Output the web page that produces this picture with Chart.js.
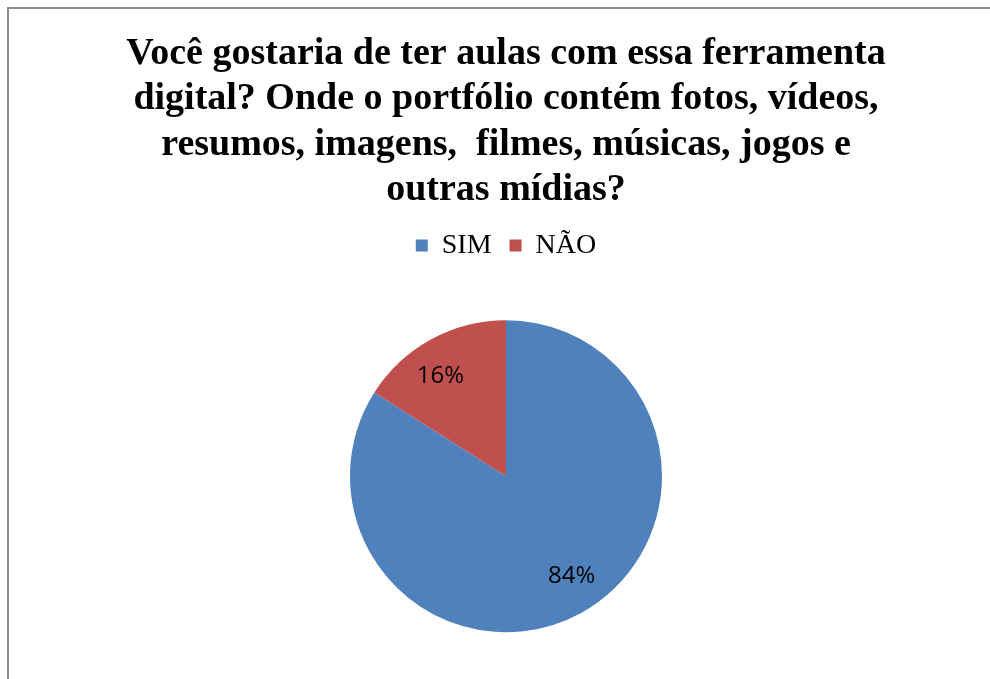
<!DOCTYPE html>
<html>
<head>
<meta charset="utf-8">
<script src="https://cdn.jsdelivr.net/npm/chart.js@4/dist/chart.umd.min.js"></script>
<style>
html,body{margin:0;padding:0;background:#fff;}
#wrap{position:relative;width:990px;height:679px;overflow:hidden;}
#frame{position:absolute;left:7px;top:7px;right:0;bottom:0;border-left:2px solid #8c8c8c;border-top:2px solid #8c8c8c;}
canvas{position:absolute;left:0;top:0;}
</style>
</head>
<body>
<div id="wrap"><div id="frame"></div><canvas id="c" width="990" height="690"></canvas></div>
<script>
const categories = ["SIM", "NÃO"];
const values = [84, 16];
const percentLabels = ["84%", "16%"];
const titleLines = [
  "Você gostaria de ter aulas com essa ferramenta",
  "digital? Onde o portfólio contém fotos, vídeos,",
  "resumos, imagens,  filmes, músicas, jogos e",
  "outras mídias?"
];
const colors = ["#4F81BD", "#C0504D"];

const labelPlugin = {
  id: 'sliceLabels',
  afterDatasetsDraw(chart) {
    const ctx = chart.ctx;
    const meta = chart.getDatasetMeta(0);
    ctx.save();
    ctx.font = '24px "Open Sans", "Liberation Sans", sans-serif';
    ctx.fillStyle = '#000';
    ctx.textAlign = 'center';
    ctx.textBaseline = 'middle';
    meta.data.forEach((arc, i) => {
      const p = arc.getProps(['x','y','startAngle','endAngle','outerRadius']);
      const mid = (p.startAngle + p.endAngle) / 2 - 0.08;
      const d = p.outerRadius * 0.765;
      ctx.fillText(percentLabels[i], p.x + Math.cos(mid) * d, p.y + Math.sin(mid) * d);
    });
    ctx.restore();
  }
};

new Chart(document.getElementById('c'), {
  type: 'pie',
  data: {
    labels: categories,
    datasets: [{ data: values, backgroundColor: colors, borderWidth: 0, radius: 156 }]
  },
  options: {
    responsive: false,
    animation: false,
    layout: { padding: { top: 0, bottom: 7, left: 22, right: 0 } },
    plugins: {
      title: {
        display: true,
        text: titleLines,
        color: '#000',
        font: { family: '"Liberation Serif", "Times New Roman", serif', size: 38, weight: 'bold', lineHeight: 1.2 },
        padding: { top: 31, bottom: 0 }
      },
      legend: {
        display: true,
        position: 'top',
        labels: {
          color: '#000',
          font: { family: '"Liberation Serif", "Times New Roman", serif', size: 28 },
          boxWidth: 12,
          boxHeight: 12,
          padding: 18
        }
      },
      tooltip: { enabled: false }
    }
  },
  plugins: [labelPlugin]
});
</script>
</body>
</html>
